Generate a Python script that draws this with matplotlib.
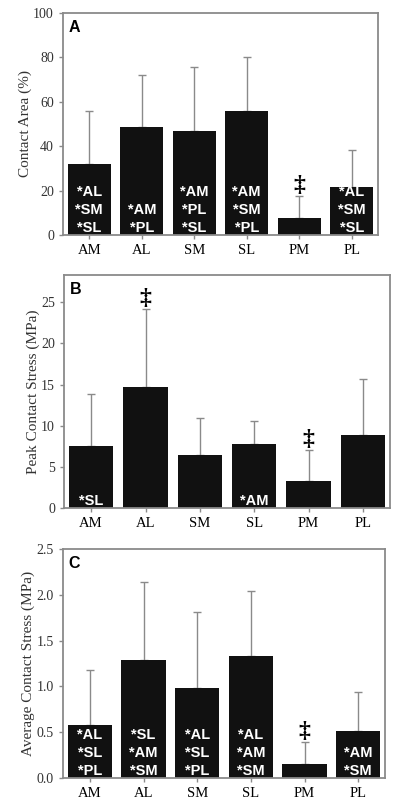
import matplotlib
matplotlib.use("Agg")
import matplotlib.pyplot as plt

regions = ["AM", "AL", "SM", "SL", "PM", "PL"]

# panel A: contact area (%)
area_mean = [32, 48.5, 47, 56, 7.5, 21.5]
area_top = [56, 72, 75.5, 80, 17.5, 38.5]
area_sig = [["*AL", "*SM", "*SL"], ["*AM", "*PL"], ["*AM", "*PL", "*SL"],
            ["*AM", "*SM", "*PL"], [], ["*AL", "*SM", "*SL"]]
area_dag = [False, False, False, False, True, False]

# panel B: peak contact stress (MPa)
peak_mean = [7.5, 14.7, 6.4, 7.8, 3.3, 8.9]
peak_top = [13.9, 24.2, 10.9, 10.6, 7.0, 15.7]
peak_sig = [["*SL"], [], [], ["*AM"], [], []]
peak_dag = [False, True, False, False, True, False]

# panel C: average contact stress (MPa)
avg_mean = [0.58, 1.29, 0.98, 1.33, 0.15, 0.51]
avg_top = [1.18, 2.14, 1.81, 2.04, 0.39, 0.94]
avg_sig = [["*AL", "*SL", "*PL"], ["*SL", "*AM", "*SM"], ["*AL", "*SL", "*PL"],
           ["*AL", "*AM", "*SM"], [], ["*AM", "*SM"]]
avg_dag = [False, False, False, False, True, False]

serif = "Liberation Serif"
sans = "Liberation Sans"
gray = "#8a8a8a"

fig = plt.figure(figsize=(4, 8.07), dpi=100)


def panel(rect, letter, means, tops, sigs, dags, ylim, yticks, ylabel, fmt):
    ax = fig.add_axes(rect)
    x = list(range(len(regions)))
    errs = [t - m for t, m in zip(tops, means)]
    ax.bar(x, means, width=0.82, color="#111111", zorder=2)
    ax.errorbar(x, means, yerr=[[0] * len(x), errs], fmt="none",
                ecolor=gray, elinewidth=1, capsize=3, capthick=1, zorder=1)
    ax.set_xlim(-0.5, len(x) - 0.5)
    ax.set_ylim(*ylim)
    ax.set_yticks(yticks)
    ax.set_yticklabels([fmt.format(v) for v in yticks], fontfamily=serif,
                       fontsize=10, color="#333333")
    ax.set_xticks(x)
    ax.set_xticklabels(regions, fontfamily=serif, fontsize=10.5)
    ax.set_ylabel(ylabel, fontfamily=serif, fontsize=11, color="#333333", labelpad=1)
    ax.tick_params(direction="out", length=3, color=gray, width=1)
    for s in ax.spines.values():
        s.set_color(gray)
        s.set_linewidth(1.3)
    ax.annotate(letter, (0, 1), xycoords="axes fraction", xytext=(4, -5),
                textcoords="offset points", ha="left", va="top",
                fontfamily=sans, fontweight="bold", fontsize=11.5)
    for i, lines in enumerate(sigs):
        for j, s in enumerate(reversed(lines)):
            ax.annotate(s, (i, 0), xycoords=("data", "axes fraction"),
                        xytext=(0, (7 + 18 * j) * 0.72), textcoords="offset points",
                        ha="center", va="center", color="white",
                        fontfamily=sans, fontweight="bold", fontsize=10.5, zorder=3)
    for i, d in enumerate(dags):
        if d:
            ax.annotate("\u2021", (i, tops[i]), xytext=(0, 0),
                        textcoords="offset points", ha="center", va="bottom",
                        fontfamily=serif, fontweight="bold", fontsize=17)
    return ax


panel([0.1575, 0.7088, 0.7875, 0.2751], "A", area_mean, area_top, area_sig, area_dag,
      (0, 100), [0, 20, 40, 60, 80, 100], "Contact Area (%)", "{:.0f}")
panel([0.16, 0.3705, 0.815, 0.2887], "B", peak_mean, peak_top, peak_sig, peak_dag,
      (0, 28.3), [0, 5, 10, 15, 20, 25], "Peak Contact Stress (MPa)", "{:.0f}")
panel([0.1575, 0.0359, 0.805, 0.2838], "C", avg_mean, avg_top, avg_sig, avg_dag,
      (0, 2.5), [0, 0.5, 1.0, 1.5, 2.0, 2.5], "Average Contact Stress (MPa)", "{:.1f}")

fig.savefig("out.png", dpi=100)
